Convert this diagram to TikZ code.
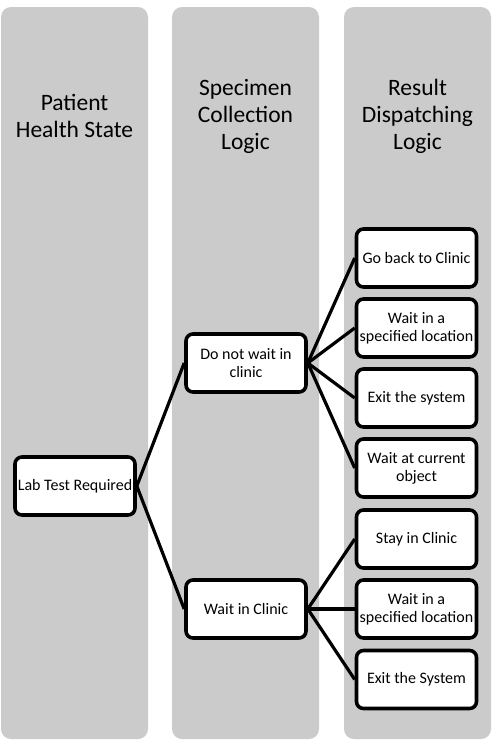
\documentclass[tikz,border=0pt]{standalone}
\usepackage{fontspec}
\setmainfont{Carlito}
\usepackage{tikz}
\usetikzlibrary{calc}
\usetikzlibrary{positioning}
\definecolor{lanegray}{RGB}{203, 203, 203}
\tikzset{
    lane/.style    = {fill=lanegray, rounded corners=10pt},
    lanetitle/.style = {align=center, font=\fontsize{23.5}{27}\selectfont},
    stepbox/.style = {draw=black, fill=white, line width=3.6pt, rounded corners=7pt,
                      minimum width=120pt, minimum height=58pt, align=center,
                      inner sep=1pt, font=\fontsize{16}{18}\selectfont},
    link/.style    = {draw=black, line width=3.2pt}
}

\begin{document}
\begin{tikzpicture}[x=1pt, y=-1pt]
            \useasboundingbox (0,0) rectangle (492,748);
            % lanes
            \fill[lane] (  1, 7) rectangle (148, 739);
            \fill[lane] (172, 7) rectangle (319, 739);
            \fill[lane] (344, 7) rectangle (491, 739);
            \node[lanetitle] (t1) at ( 74.5,116) {Patient\\Health State};
            \node[lanetitle] (t2) at (245.5,116) {Specimen\\Collection\\Logic};
            \node[lanetitle] (t3) at (417.5,116) {Result\\Dispatching\\Logic};
            % boxes
            \node[stepbox] (lab)    at ( 75,486) {Lab Test Required};
            \node[stepbox] (nowait) at (246,363) {Do not wait in\\clinic};
            \node[stepbox] (wait)   at (246,609) {Wait in Clinic};
            \node[stepbox] (back)   at (416.5,258) {Go back to Clinic};
            \node[stepbox] (spec1)  at (416.5,328) {Wait in a\\specified location};
            \node[stepbox] (exit1)  at (416.5,398) {Exit the system};
            \node[stepbox] (cur)    at (416.5,468) {Wait at current\\object};
            \node[stepbox] (stay)   at (416.5,539) {Stay in Clinic};
            \node[stepbox] (spec2)  at (416.5,609) {Wait in a\\specified location};
            \node[stepbox] (exit2)  at (416.5,679.5) {Exit the System};
            % links
            \draw[link] (lab.east) -- (nowait.west);
            \draw[link] (lab.east) -- (wait.west);
            \foreach \b in {back, spec1, exit1, cur}
                \draw[link] (nowait.east) -- (\b.west);
            \foreach \b in {stay, spec2, exit2}
                \draw[link] (wait.east) -- (\b.west);
        \end{tikzpicture}
\end{document}
